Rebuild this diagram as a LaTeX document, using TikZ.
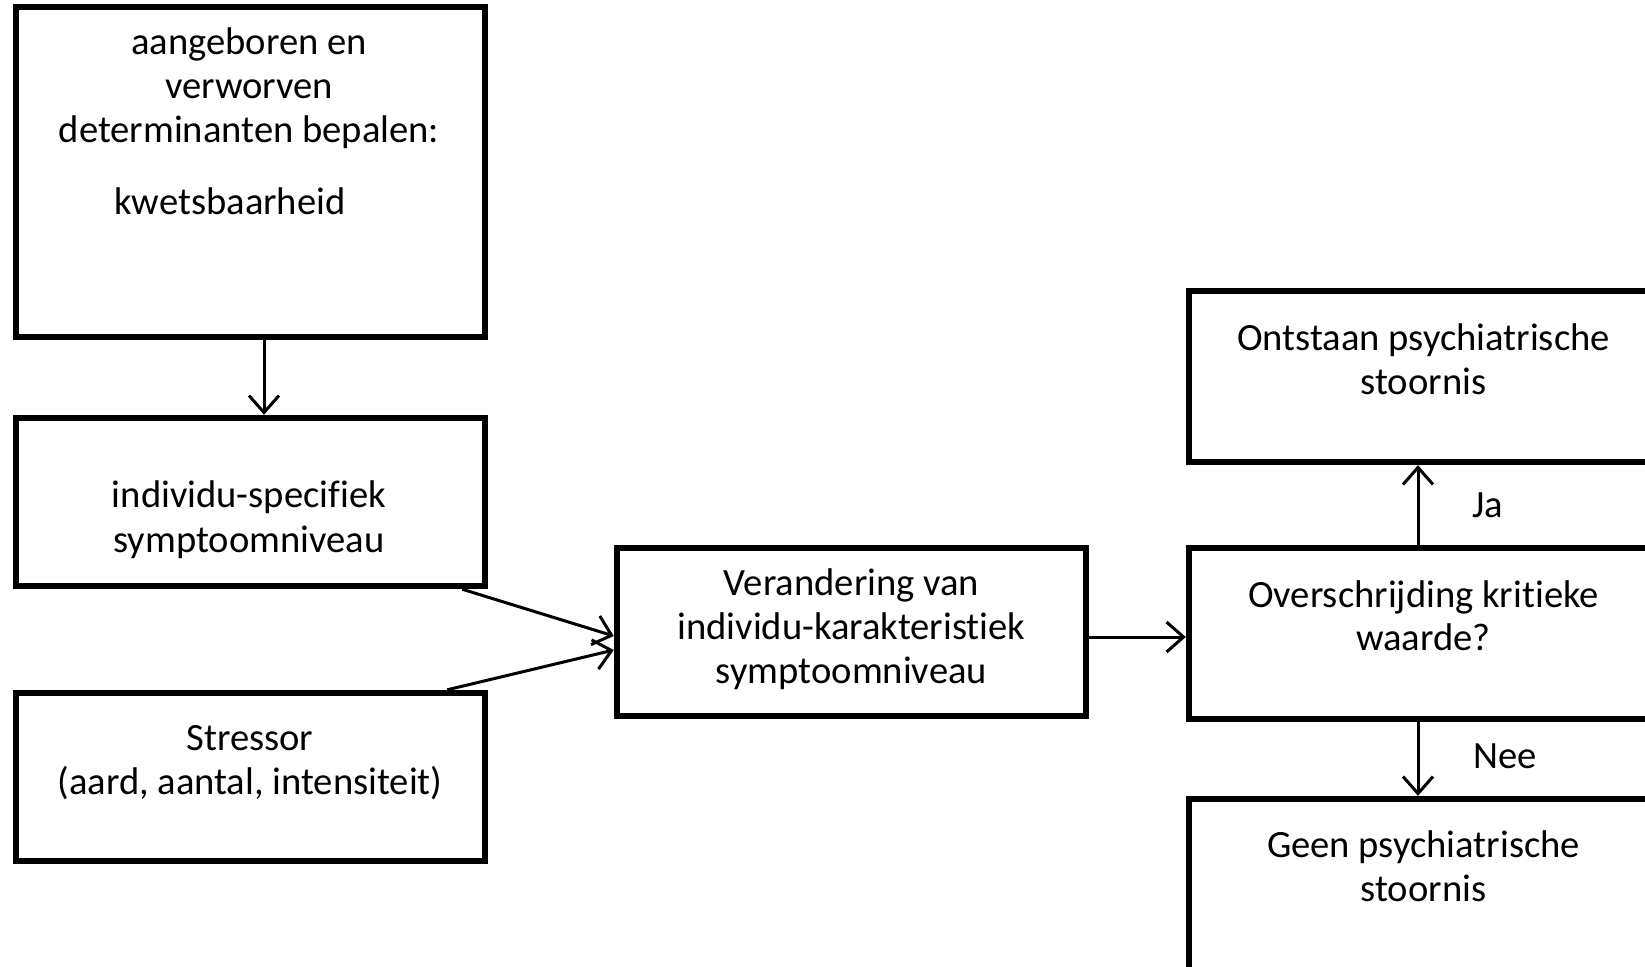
\documentclass[tikz,border=0pt]{standalone}
\usepackage{fontspec}
\setmainfont{Carlito}[Ligatures=NoCommon]
\usetikzlibrary{arrows.meta,calc}
\tikzset{
  box/.style={draw, line width=3.2pt, minimum width=234.5pt, inner sep=0pt},
  txt/.style={anchor=base, inner sep=0pt, font=\fontsize{19.3}{21}\selectfont},
  arr/.style={line width=1.5pt, -{Straight Barb[length=8.5pt,width=15pt]}}
}
\begin{document}
\begin{tikzpicture}[x=0.5pt,y=-0.5pt]
\useasboundingbox (0,0) rectangle (1645,966);
\clip (0,0) rectangle (1645,966);
% boxes
\node[box, minimum height=165pt] (b1) at (250.5,172.25) {};
\node[box, minimum height=84pt] (b2) at (250.5,502) {};
\node[box, minimum height=84pt] (b3) at (250.5,777) {};
\node[box, minimum height=84pt] (bc) at (851.5,632) {};
\node[box, minimum height=85.5pt] (rt) at (1423.5,376.5) {};
\node[box, minimum height=85.5pt] (rm) at (1423.5,633.5) {};
\node[box, minimum height=85.5pt] (rb) at (1423.5,884.5) {};
% texts
\node[txt] (t1a) at (249,54) {aangeboren en};
\node[txt] (t1b) at (249,98) {verworven};
\node[txt] (t1c) at (249,142) {determinanten bepalen:};
\node[txt] (t1d) at (230,214) {kwetsbaarheid};
\node[txt] (t2a) at (249,507) {individu-specifiek};
\node[txt] (t2b) at (249,552) {symptoomniveau};
\node[txt] (t3a) at (250,750) {Stressor};
\node[txt] (t3b) at (250,794) {(aard, aantal, intensiteit)};
\node[txt] (tca) at (851.5,595) {Verandering van};
\node[txt] (tcb) at (851.5,639) {individu-karakteristiek};
\node[txt] (tcc) at (851.5,683) {symptoomniveau};
\node[txt] (tta) at (1423.5,350) {Ontstaan psychiatrische};
\node[txt] (ttb) at (1423.5,394) {stoornis};
\node[txt] (tma) at (1423.5,607) {Overschrijding kritieke};
\node[txt] (tmb) at (1423.5,650) {waarde?};
\node[txt] (tba) at (1423.5,857) {Geen psychiatrische};
\node[txt] (tbb) at (1423.5,901) {stoornis};
\node[txt] (ja) at (1488,517) {Ja};
\node[txt] (nee) at (1505,768) {Nee};
% connectors
\draw[arr] ($(b1.south)+(13.5,0)$) -- ($(b2.north)+(13.5,0)$);
\draw[arr] ($(b2.south east)+(-26,0)$) -- ($(bc.west)+(0,4)$);
\draw[arr] ($(b3.north east)+(-41,0)$) -- ($(bc.west)+(0,18)$);
\draw[arr] ($(bc.east)+(0,5)$) -- ($(rm.west)+(0,3.5)$);
\draw[arr] ($(rm.north)+(-5.5,0)$) -- ($(rt.south)+(-5.5,0)$);
\draw[arr] ($(rm.south)+(-5.5,0)$) -- ($(rb.north)+(-5.5,0)$);
\end{tikzpicture}
\end{document}
